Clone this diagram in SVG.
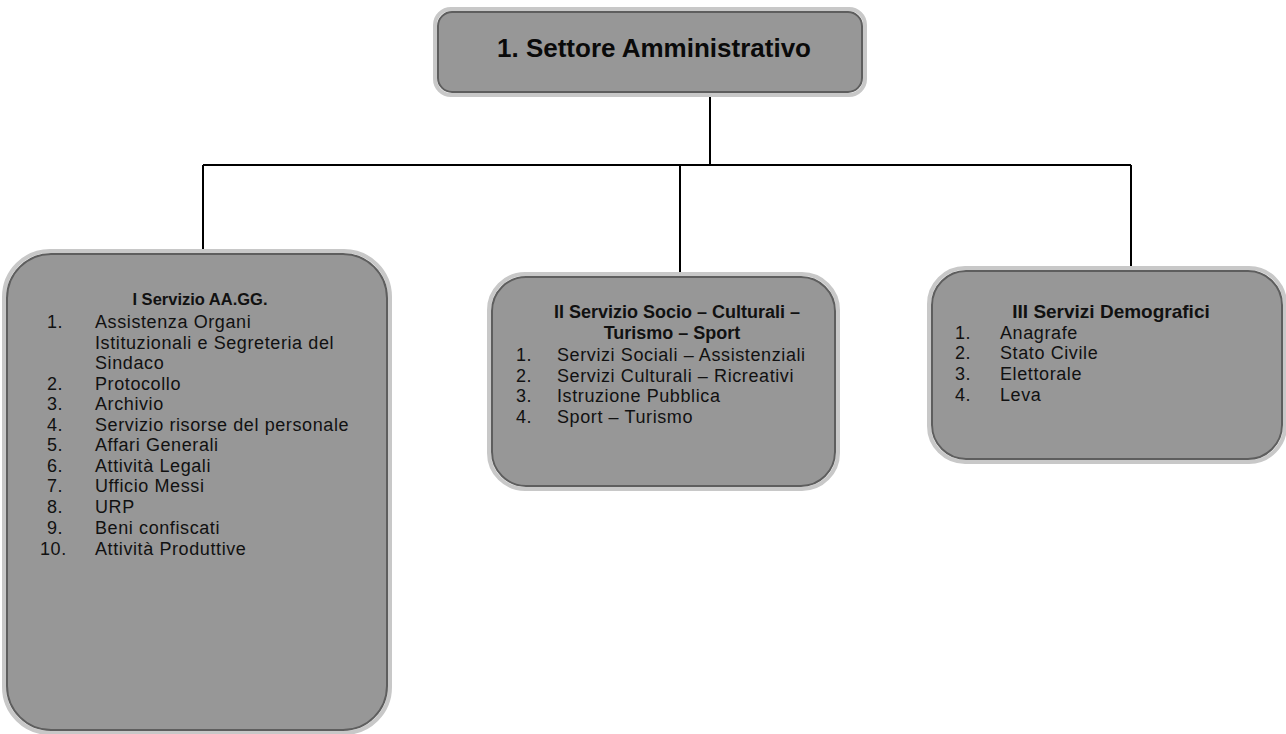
<svg xmlns="http://www.w3.org/2000/svg" width="1286" height="734" viewBox="0 0 1286 734">
<style>
.box{fill:#979797;stroke:#5e5e5e;stroke-width:2}
.rim{fill:none;stroke:#c8c8c8;stroke-width:4}
.t{font-family:"Liberation Sans",Arial,sans-serif;font-size:18px;letter-spacing:0.6px;fill:#111}
.b{font-weight:bold;letter-spacing:0}
.h{font-family:"Liberation Sans",Arial,sans-serif;font-size:26px;font-weight:bold;fill:#0a0a0a}
.c{fill:none;stroke:#000;stroke-width:2}
</style>
<rect width="1286" height="734" fill="#ffffff"/>
<g id="connectors">
<path class="c" d="M710 93 V165"/>
<path class="c" d="M203 165 H1131"/>
<path class="c" d="M203 165 V256"/>
<path class="c" d="M680 165 V278"/>
<path class="c" d="M1131 165 V272"/>
</g>
<g id="node-top">
<rect class="rim" x="435" y="9" width="430" height="86" rx="16"/>
<rect class="box" x="438" y="12" width="424" height="80" rx="14"/>
<text class="h" x="654" y="57" text-anchor="middle">1. Settore Amministrativo</text>
</g>
<g id="node-aagg">
<rect class="rim" x="4" y="251" width="386" height="482" rx="46"/>
<rect class="box" x="7" y="254" width="380" height="476" rx="44"/>
<text class="t b" x="200" y="305" text-anchor="middle" style="font-size:16.5px">I Servizio AA.GG.</text>
<text class="t" x="47" y="328">1.</text><text class="t" x="95" y="328">Assistenza Organi</text>
<text class="t" x="95" y="349">Istituzionali e Segreteria del</text>
<text class="t" x="95" y="369">Sindaco</text>
<text class="t" x="47" y="390">2.</text><text class="t" x="95" y="390">Protocollo</text>
<text class="t" x="47" y="410">3.</text><text class="t" x="95" y="410">Archivio</text>
<text class="t" x="47" y="431">4.</text><text class="t" x="95" y="431">Servizio risorse del personale</text>
<text class="t" x="47" y="451">5.</text><text class="t" x="95" y="451">Affari Generali</text>
<text class="t" x="47" y="472">6.</text><text class="t" x="95" y="472">Attività Legali</text>
<text class="t" x="47" y="492">7.</text><text class="t" x="95" y="492">Ufficio Messi</text>
<text class="t" x="47" y="513">8.</text><text class="t" x="95" y="513">URP</text>
<text class="t" x="47" y="534">9.</text><text class="t" x="95" y="534">Beni confiscati</text>
<text class="t" x="40" y="555">10.</text><text class="t" x="95" y="555">Attività Produttive</text>
</g>
<g id="node-socio">
<rect class="rim" x="489" y="274" width="349" height="215" rx="36"/>
<rect class="box" x="492" y="277" width="343" height="209" rx="34"/>
<text class="t b" x="677" y="318" text-anchor="middle">II Servizio  Socio – Culturali –</text>
<text class="t b" x="672" y="339" text-anchor="middle">Turismo – Sport</text>
<text class="t" x="516" y="361">1.</text><text class="t" x="557" y="361">Servizi  Sociali – Assistenziali</text>
<text class="t" x="516" y="382">2.</text><text class="t" x="557" y="382">Servizi Culturali – Ricreativi</text>
<text class="t" x="516" y="402">3.</text><text class="t" x="557" y="402">Istruzione Pubblica</text>
<text class="t" x="516" y="423">4.</text><text class="t" x="557" y="423">Sport – Turismo</text>
</g>
<g id="node-demo">
<rect class="rim" x="929" y="268" width="356" height="194" rx="36"/>
<rect class="box" x="932" y="271" width="350" height="188" rx="34"/>
<text class="t b" x="1111" y="318" text-anchor="middle" style="font-size:19px">III Servizi Demografici</text>
<text class="t" x="955" y="339">1.</text><text class="t" x="1000" y="339">Anagrafe</text>
<text class="t" x="955" y="359">2.</text><text class="t" x="1000" y="359">Stato Civile</text>
<text class="t" x="955" y="380">3.</text><text class="t" x="1000" y="380">Elettorale</text>
<text class="t" x="955" y="401">4.</text><text class="t" x="1000" y="401">Leva</text>
</g>
</svg>
